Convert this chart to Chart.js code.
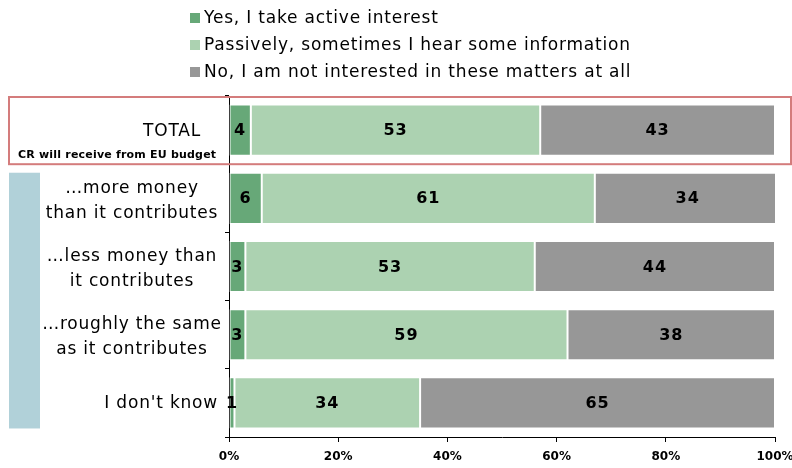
<!DOCTYPE html>
<html>
<head>
<meta charset="utf-8">
<script src="https://cdn.jsdelivr.net/npm/chart.js@4/dist/chart.umd.min.js"></script>
<style>
  html, body { margin: 0; padding: 0; background: #fff; }
  #wrap { width: 792px; height: 468px; }
</style>
</head>
<body>
<div id="wrap"><canvas id="interestChart" width="792" height="468"></canvas></div>
<script>
// 資料
const categories = [
    ['TOTAL'],
    ['…more money', 'than it contributes'],
    ['…less money than', 'it contributes'],
    ['…roughly the same', 'as it contributes'],
    ["I don't know"]
];
const activeInterest = [4, 6, 3, 3, 1];
const passiveInterest = [53, 61, 53, 59, 34];
const notInterested = [43, 34, 44, 38, 65];
const seriesNames = [
    'Yes, I take active interest',
    'Passively, sometimes I hear some information',
    'No, I am not interested in these matters at all'
];
const xTicks = [0, 20, 40, 60, 80, 100];
const subTitle = 'CR will receive from EU budget';

const colors = ['#67a878', '#acd2b1', '#979797'];
const textFont = '"DejaVu Sans", Verdana, sans-serif';

// 圖例、方框、分類文字和數值
const decorPlugin = {
    id: 'decor',
    beforeDatasetsDraw(chart) {
        const ctx = chart.ctx;
        const y = chart.scales.y;
        const step = y.getPixelForValue(1) - y.getPixelForValue(0);

        // TOTAL 紅框
        ctx.save();
        ctx.strokeStyle = '#d47c7c';
        ctx.lineWidth = 2;
        const top = y.getPixelForValue(0) - step / 2 + 1;
        ctx.strokeRect(9, top, 782, step - 1);

        // 左側淺藍條
        const meta1 = chart.getDatasetMeta(0).data;
        const b1 = meta1[1], b4 = meta1[4];
        ctx.fillStyle = '#b1d1d9';
        ctx.fillRect(9, b1.y - b1.height / 2, 31, (b4.y + b4.height / 2) - (b1.y - b1.height / 2));
        ctx.restore();
    },
    afterDraw(chart) {
        const ctx = chart.ctx;
        const y = chart.scales.y;
        ctx.save();

        // 圖例
        ctx.font = '17px ' + textFont;
        ctx.letterSpacing = '0.8px';
        ctx.textBaseline = 'middle';
        ctx.textAlign = 'left';
        seriesNames.forEach((name, i) => {
            const cy = 18 + i * 27;
            ctx.fillStyle = colors[i];
            ctx.fillRect(190, cy - 5, 10, 10);
            ctx.fillStyle = '#000';
            ctx.fillText(name, 204, cy + 1);
        });

        // 分類文字
        ctx.fillStyle = '#000';
        categories.forEach((lines, i) => {
            const cy = y.getPixelForValue(i) + 1;
            if (lines.length === 1) {
                ctx.textAlign = 'right';
                ctx.fillText(lines[0], i === 0 ? 201 : 218, cy);
            } else {
                ctx.textAlign = 'center';
                ctx.fillText(lines[0], 132, cy - 11);
                ctx.fillText(lines[1], 132, cy + 14);
            }
        });
        ctx.font = 'bold 11px ' + textFont;
        ctx.letterSpacing = '0.2px';
        ctx.textAlign = 'left';
        ctx.fillText(subTitle, 18, y.getPixelForValue(0) + 25);

        // 數值
        ctx.font = 'bold 16px ' + textFont;
        ctx.letterSpacing = '1px';
        ctx.textAlign = 'center';
        chart.data.datasets.forEach((ds, di) => {
            chart.getDatasetMeta(di).data.forEach((bar, i) => {
                const cx = (bar.x + bar.base) / 2;
                ctx.fillStyle = '#000';
                ctx.fillText(String(ds.data[i]), cx, bar.y + 1);
            });
        });
        ctx.restore();
    }
};

const ctx = document.getElementById('interestChart').getContext('2d');
const interestChart = new Chart(ctx, {
    type: 'bar',
    data: {
        labels: categories,
        datasets: [activeInterest, passiveInterest, notInterested].map((vals, i) => ({
            label: seriesNames[i],
            data: vals,
            backgroundColor: colors[i],
            borderColor: '#ffffff',
            borderWidth: 1,
            borderSkipped: false,
            categoryPercentage: 1,
            barPercentage: 0.75
        }))
    },
    options: {
        indexAxis: 'y',
        responsive: false,
        animation: false,
        layout: { padding: { top: 96, right: 17, left: 0, bottom: 0 } },
        plugins: {
            legend: { display: false },
            tooltip: { enabled: false }
        },
        scales: {
            x: {
                stacked: true,
                min: 0,
                max: 100,
                afterBuildTicks(scale) {
                    scale.ticks = xTicks.map(v => ({ value: v }));
                },
                afterFit(scale) {
                    scale.height = 31;
                    scale.paddingLeft = 0;
                    scale.paddingRight = 0;
                },
                grid: { drawOnChartArea: false, tickLength: 5, color: '#000' },
                border: { color: '#000', width: 1 },
                ticks: {
                    color: '#000',
                    padding: 8,
                    maxRotation: 0,
                    font: { family: textFont, size: 12, weight: 'bold' },
                    callback: v => v + '%'
                }
            },
            y: {
                stacked: true,
                afterFit(scale) { scale.width = 229; },
                grid: { drawOnChartArea: false, tickLength: 4, color: '#000', offset: true },
                border: { color: '#000', width: 1 },
                ticks: { display: false }
            }
        }
    },
    plugins: [decorPlugin]
});
</script>
</body>
</html>
